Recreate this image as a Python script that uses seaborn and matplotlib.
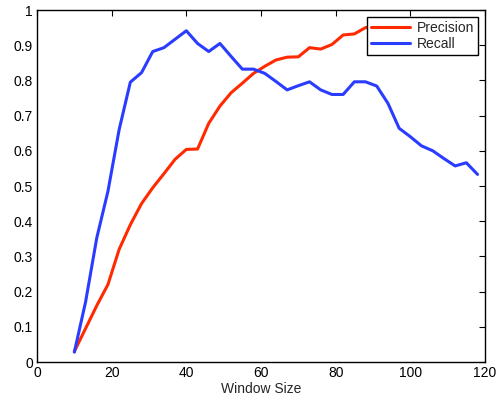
import pandas as pd
import seaborn as sns
import matplotlib.pyplot as plt

# Valeurs
window = [10, 13, 16, 19, 22, 25, 28, 31, 34, 37, 40, 43, 46, 49, 52, 55, 58, 61, 64,
          67, 70, 73, 76, 79, 82, 85, 88, 91, 94, 97, 100, 103, 106, 109, 112, 115, 118]
precision = [0.03, 0.095, 0.16, 0.22, 0.32, 0.39, 0.45, 0.495, 0.535, 0.576, 0.604, 0.605,
             0.678, 0.727, 0.765, 0.792, 0.82, 0.84, 0.858, 0.866, 0.867, 0.893, 0.889,
             0.902, 0.929, 0.932, 0.95, 0.955, 0.96, 0.96, 0.965, 0.965, 0.97, 0.97,
             0.975, 0.97, 0.975]
recall = [0.028, 0.17, 0.352, 0.485, 0.66, 0.795, 0.822, 0.882, 0.893, 0.917, 0.941, 0.905,
          0.882, 0.905, 0.868, 0.832, 0.832, 0.82, 0.797, 0.773, 0.785, 0.796, 0.773,
          0.76, 0.76, 0.796, 0.796, 0.784, 0.735, 0.664, 0.64, 0.614, 0.600, 0.578,
          0.557, 0.566, 0.533]

df = pd.DataFrame({
    'Window Size': window * 2,
    'value': precision + recall,
    'serie': ['Precision'] * len(window) + ['Recall'] * len(window),
})

sns.set_style('white')
plt.rcParams['font.family'] = ['Liberation Sans', 'DejaVu Sans']

fig = plt.figure(figsize=(5, 4), dpi=100)
ax = fig.add_axes([0.074, 0.095, 0.896, 0.88])

sns.lineplot(data=df, x='Window Size', y='value', hue='serie',
             palette={'Precision': '#ff2a00', 'Recall': '#2a3cff'},
             linewidth=2.2, ax=ax)

ax.set_xlim(0, 120)
ax.set_ylim(0, 1)
ax.set_xticks([0, 20, 40, 60, 80, 100, 120])
ax.set_yticks([0, 0.1, 0.2, 0.3, 0.4, 0.5, 0.6, 0.7, 0.8, 0.9, 1])
ax.set_yticklabels(['0', '0.1', '0.2', '0.3', '0.4', '0.5', '0.6', '0.7', '0.8', '0.9', '1'])
ax.set_xlabel('Window Size', fontsize=10, labelpad=1)
ax.set_ylabel('')
ax.tick_params(direction='in', length=4, width=0.8, labelsize=10, colors='black',
               top=True, right=True, pad=3)
for s in ax.spines.values():
    s.set_visible(True)
    s.set_color('black')
    s.set_linewidth(1)

leg = ax.legend(loc='upper right', fontsize=10, frameon=True, fancybox=False,
                framealpha=1, edgecolor='black', borderpad=0.3, handlelength=2.8,
                handletextpad=0.5, labelspacing=0.1, borderaxespad=0.5)
leg.get_frame().set_linewidth(1)

fig.savefig('out.png', dpi=100)
